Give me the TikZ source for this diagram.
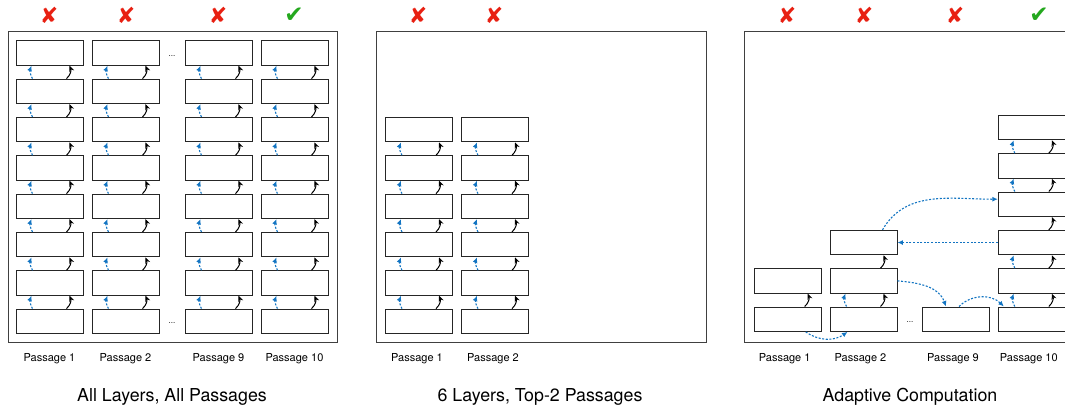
\documentclass[tikz,border=0pt]{standalone}
\usepackage{fontspec}
\setmainfont{TeX Gyre Heros}
\newfontfamily\marksfont{DejaVu Sans}
\usepackage{tikz}
\usepackage{xcolor}
\usetikzlibrary{arrows.meta, positioning, calc}
\definecolor{flowblue}{RGB}{18,116,194}
\definecolor{crossred}{RGB}{232,32,18}
\definecolor{tickgreen}{RGB}{36,168,30}

\begin{document}
\begin{tikzpicture}[x=1pt, y=-1pt,
    layer/.style={draw=black!85, line width=0.9pt, minimum width=67pt, minimum height=24.5pt, inner sep=0pt},
    panelframe/.style={draw=black!75, line width=1pt},
    upflow/.style={draw=black, line width=1pt, -{Stealth[length=6pt,width=5pt]}},
    skipflow/.style={draw=flowblue, line width=1.1pt, dash pattern=on 2pt off 1.6pt, -{Latex[length=5.5pt,width=5pt]}},
    passlabel/.style={font=\fontsize{11}{13}\selectfont},
    paneltitle/.style={font=\fontsize{17.8}{20}\selectfont},
    nope/.style={text=crossred, font=\marksfont\fontsize{22}{24}\selectfont},
    yes/.style={text=tickgreen, font=\marksfont\fontsize{23}{24}\selectfont},
    gap/.style={font=\fontsize{8}{10}\selectfont}]
\useasboundingbox (0,0) rectangle (1065,409);

% all layers, all passages
\draw[panelframe] (8,32) rectangle (337,342);
\foreach \p/\x in {1/49.5, 2/125.5, 9/218.5, 10/294.5} {
    \foreach \l in {1,...,8} {
        \pgfmathsetmacro{\y}{321.3-(\l-1)*38.33}
        \node[layer] (a-\p-\l) at (\x,\y) {};
    }
    \foreach \l [evaluate=\l as \u using int(\l+1)] in {1,...,7} {
        \draw[skipflow] ([xshift=-17pt]a-\p-\l.north) to[bend left=25] ([xshift=-18pt]a-\p-\u.south);
        \draw[upflow] ([xshift=17pt]a-\p-\l.north) to[bend right=35] ([xshift=20pt]a-\p-\u.south);
    }
    \node[passlabel] (a-lab-\p) at (\x,359) {Passage \p};
}
\foreach \x/\m in {49/nope, 126/nope, 218/nope} {
    \node[\m] (a-mark-\x) at (\x,15) {✘};
}
\node[yes] (a-mark-ok) at (294,15) {✔};
\node[gap] (a-dots-top) at (172,56) {...};
\node[gap] (a-dots-bot) at (172,323) {...};
\node[paneltitle] (a-title) at (172,397) {All Layers, All Passages};

% 6 layers, top-2 passages
\draw[panelframe] (376,32) rectangle (706,342);
\foreach \p/\x in {1/419, 2/495} {
    \foreach \l in {1,...,6} {
        \pgfmathsetmacro{\y}{321.3-(\l-1)*38.33}
        \node[layer] (b-\p-\l) at (\x,\y) {};
    }
    \foreach \l [evaluate=\l as \u using int(\l+1)] in {1,...,5} {
        \draw[skipflow] ([xshift=-17pt]b-\p-\l.north) to[bend left=25] ([xshift=-18pt]b-\p-\u.south);
        \draw[upflow] ([xshift=17pt]b-\p-\l.north) to[bend right=35] ([xshift=20pt]b-\p-\u.south);
    }
    \node[passlabel] (b-lab-\p) at (\x-2,359) {Passage \p};
    \node[nope] (b-mark-\p) at (\x-1,15) {✘};
}
\node[paneltitle] (b-title) at (540,397) {6 Layers, Top-2 Passages};

% adaptive computation
\draw[panelframe] (744,32) rectangle (1090,342);
\foreach \p/\x/\n in {1/787.7/2, 2/863.5/3, 9/956/1, 10/1031.8/6} {
    \foreach \l in {1,...,\n} {
        \pgfmathsetmacro{\y}{319.2-(\l-1)*38.33}
        \node[layer] (c-\p-\l) at (\x,\y) {};
    }
    \node[passlabel] (c-lab-\p) at (\x-3,359) {Passage \p};
}
\draw[upflow] ([xshift=17pt]c-1-1.north) to[bend right=35] ([xshift=20pt]c-1-2.south);
\draw[upflow] ([xshift=17pt]c-2-1.north) to[bend right=35] ([xshift=20pt]c-2-2.south);
\draw[upflow] ([xshift=17pt]c-2-2.north) to[bend right=35] ([xshift=20pt]c-2-3.south);
\draw[skipflow] ([xshift=-17pt]c-2-1.north) to[bend left=25] ([xshift=-18pt]c-2-2.south);
\foreach \l/\u in {1/2, 2/3, 3/4, 4/5, 5/6} {
    \draw[upflow] ([xshift=17pt]c-10-\l.north) to[bend right=35] ([xshift=20pt]c-10-\u.south);
}
\foreach \l/\u in {1/2, 2/3, 4/5, 5/6} {
    \draw[skipflow] ([xshift=-17pt]c-10-\l.north) to[bend left=25] ([xshift=-18pt]c-10-\u.south);
}
\draw[skipflow] ([xshift=18pt]c-1-1.south) to[bend right=35] ([xshift=-16pt]c-2-1.south);
\draw[skipflow] (c-2-2.east) to[out=-5, in=110] ([xshift=-10pt]c-9-1.north);
\draw[skipflow] ([xshift=3pt]c-9-1.north) to[bend left=45] ([xshift=-28pt]c-10-1.north);
\draw[skipflow] (c-10-3.west) -- (c-2-3.east);
\draw[skipflow] ([xshift=19pt]c-2-3.north) to[out=60, in=180] ([yshift=5pt]c-10-4.west);
\foreach \x in {787, 864, 955} {
    \node[nope] (c-mark-\x) at (\x,15) {✘};
}
\node[yes] (c-mark-ok) at (1039,15) {✔};
\node[gap] (c-dots) at (910,322) {...};
\node[paneltitle] (c-title) at (910,397) {Adaptive Computation};
\end{tikzpicture}
\end{document}
